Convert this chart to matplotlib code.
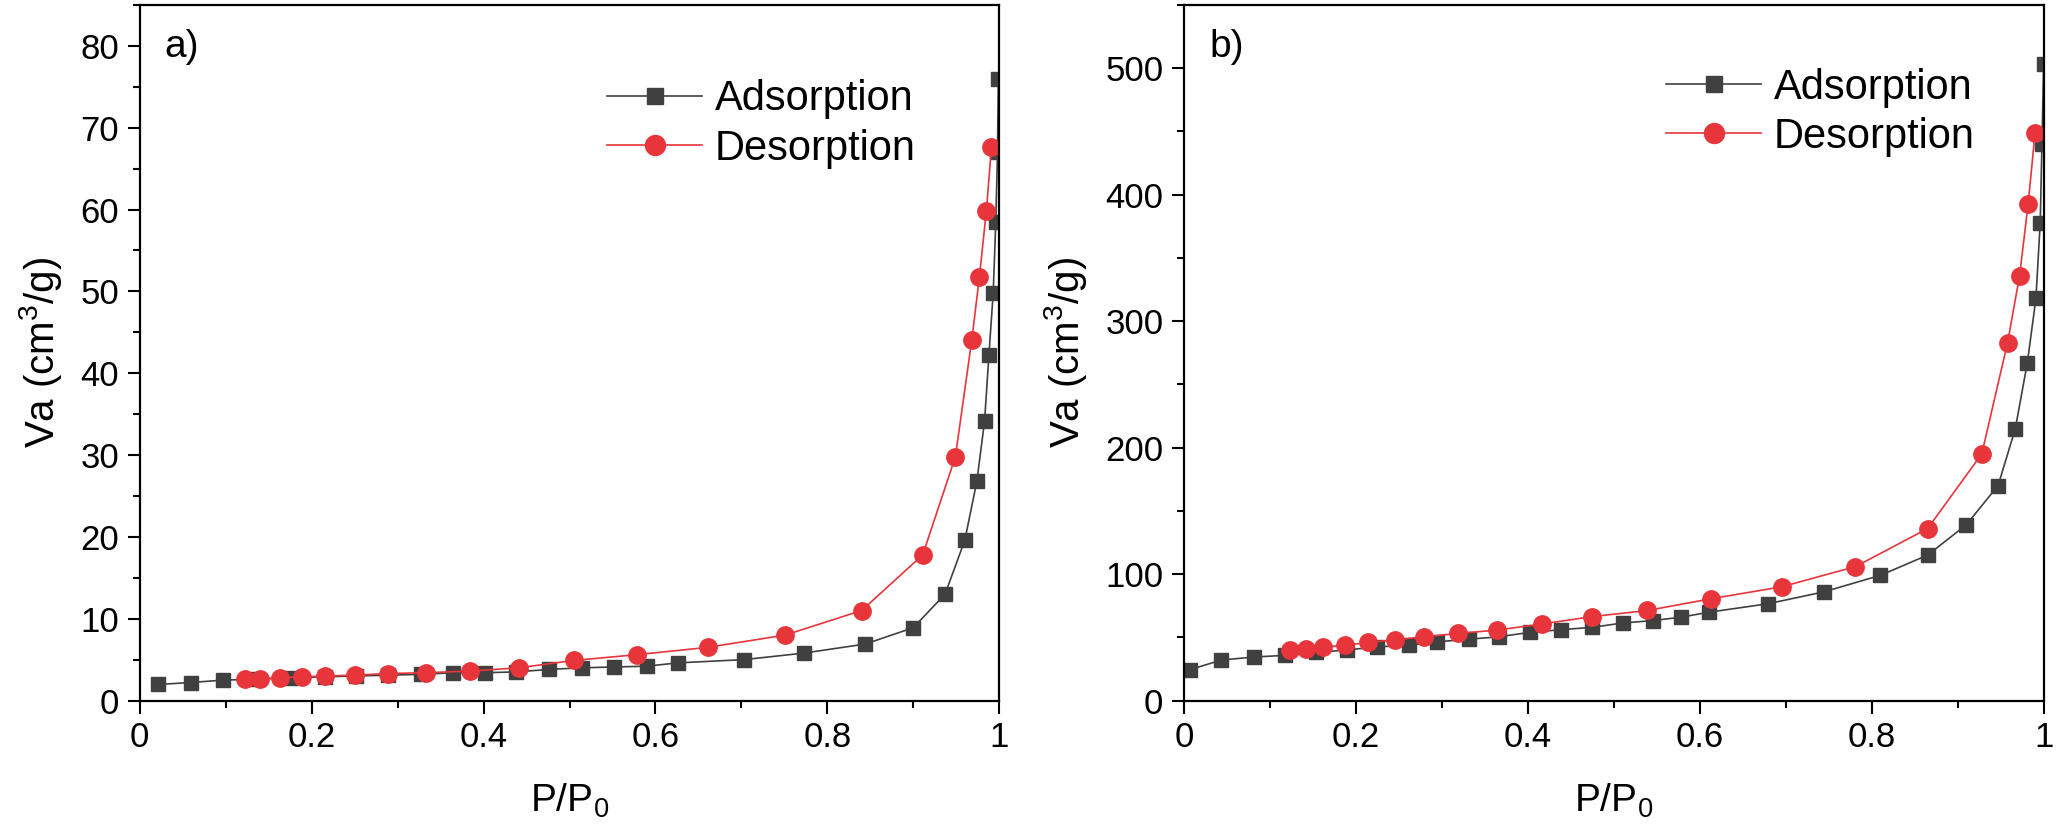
import matplotlib
matplotlib.use('Agg')
import matplotlib.pyplot as plt
from matplotlib.ticker import MultipleLocator

plt.rcParams['font.family'] = ['Liberation Sans', 'DejaVu Sans']
plt.rcParams['mathtext.default'] = 'regular'

# panel a
a_ads_x = [0.021, 0.059, 0.097, 0.136, 0.176, 0.215, 0.251, 0.289, 0.327, 0.365, 0.402, 0.438,
           0.476, 0.514, 0.552, 0.590, 0.626, 0.703, 0.773, 0.844, 0.900, 0.937, 0.960, 0.974,
           0.983, 0.988, 0.993, 0.996, 0.998, 0.999]
a_ads_y = [1.96, 2.2, 2.5, 2.6, 2.8, 2.9, 3.0, 3.1, 3.2, 3.4, 3.4, 3.5,
           3.8, 4.0, 4.1, 4.2, 4.6, 5.0, 5.8, 6.9, 8.9, 13.0, 19.6, 26.8,
           34.2, 42.2, 49.8, 58.5, 67.0, 76.0]
a_des_x = [0.122, 0.140, 0.163, 0.189, 0.216, 0.250, 0.289, 0.333, 0.384, 0.441, 0.505, 0.578,
           0.661, 0.751, 0.840, 0.911, 0.949, 0.968, 0.977, 0.985, 0.991]
a_des_y = [2.6, 2.6, 2.8, 2.9, 3.0, 3.1, 3.3, 3.4, 3.6, 4.0, 4.9, 5.6,
           6.5, 8.0, 11.0, 17.8, 29.8, 44.0, 51.8, 59.8, 67.6]

# panel b
b_ads_x = [0.007, 0.043, 0.081, 0.117, 0.153, 0.189, 0.224, 0.261, 0.294, 0.331, 0.366, 0.402,
           0.438, 0.475, 0.510, 0.545, 0.578, 0.611, 0.679, 0.744, 0.810, 0.865, 0.910, 0.947,
           0.967, 0.981, 0.991, 0.996, 0.998, 1.0]
b_ads_y = [24.5, 32, 34.4, 35.7, 38, 40, 42.4, 43.7, 46.4, 48.5, 50.4, 53.9,
           56, 57.9, 61.3, 63.2, 65.9, 69.9, 76.5, 85.9, 99, 115, 139, 170,
           215, 267, 318, 378, 440, 503]
b_des_x = [0.123, 0.142, 0.162, 0.187, 0.214, 0.245, 0.279, 0.319, 0.364, 0.416, 0.475, 0.539,
           0.613, 0.695, 0.781, 0.865, 0.928, 0.958, 0.972, 0.982, 0.990]
b_des_y = [40, 41.1, 42.4, 43.7, 45.9, 48, 50.4, 53.1, 55.7, 60.5, 66.4, 71.2,
           80.5, 89.9, 105.9, 136, 195, 283, 336, 393, 449]

ads_color = '#404040'
des_color = '#e8353b'

fig = plt.figure(figsize=(20.56, 8.31), dpi=100)
ax1 = fig.add_axes([0.068, 0.157, 0.418, 0.837])
ax2 = fig.add_axes([0.576, 0.157, 0.418, 0.837])

panels = [
    (ax1, a_ads_x, a_ads_y, a_des_x, a_des_y, 85, 10, 5, 'a)', (0.544, 0.893)),
    (ax2, b_ads_x, b_ads_y, b_des_x, b_des_y, 550, 100, 50, 'b)', (0.561, 0.91)),
]

for ax, ax_x, ax_y, dx, dy, ymax, major, minor, tag, legpos in panels:
    ax.plot(ax_x, ax_y, '-s', color=ads_color, lw=1.2, ms=10.5, label='Adsorption')
    ax.plot(dx, dy, '-o', color=des_color, lw=1.2, ms=12.5, label='Desorption')
    ax.set_xlim(0, 1)
    ax.set_ylim(0, ymax)
    ax.xaxis.set_minor_locator(MultipleLocator(0.1))
    ax.yaxis.set_major_locator(MultipleLocator(major))
    ax.yaxis.set_minor_locator(MultipleLocator(minor))
    ax.set_xticks([0, 0.2, 0.4, 0.6, 0.8, 1.0])
    ax.set_xticklabels(['0', '0.2', '0.4', '0.6', '0.8', '1'])
    ax.tick_params(which='major', direction='out', length=9, width=1.5, labelsize=25, pad=6)
    ax.tick_params(which='minor', direction='out', length=5, width=1.5)
    for s in ax.spines.values():
        s.set_linewidth(1.6)
    ax.set_xlabel('P/P$_0$', fontsize=28, labelpad=20)
    ax.set_ylabel('Va (cm$^3$/g)', fontsize=29, labelpad=12)
    ax.text(0.029, 0.966, tag, transform=ax.transAxes, fontsize=28, va='top', ha='left')
    ax.legend(loc='upper left', bbox_to_anchor=legpos, frameon=False, fontsize=30,
              handlelength=2.28, handletextpad=0.3, labelspacing=0.22, borderpad=0,
              borderaxespad=0, markerscale=1.15)

fig.savefig('out.png', dpi=100)
